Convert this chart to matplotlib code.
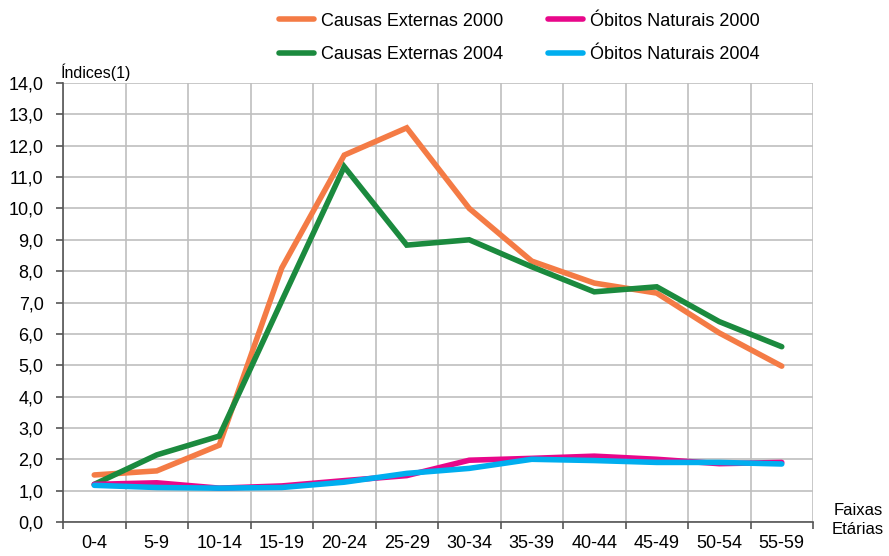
import numpy as np
import matplotlib
matplotlib.use("Agg")
import matplotlib.pyplot as plt
from matplotlib.ticker import FixedLocator, FuncFormatter
#------------------------------------------------------------

faixas = ["0-4", "5-9", "10-14", "15-19", "20-24", "25-29",
          "30-34", "35-39", "40-44", "45-49", "50-54", "55-59"]

causas_ext_2000 = [1.50, 1.63, 2.45, 8.10, 11.70, 12.57, 10.00, 8.32, 7.62, 7.30, 6.03, 4.97]
causas_ext_2004 = [1.20, 2.14, 2.74, 7.05, 11.33, 8.83, 9.00, 8.14, 7.34, 7.50, 6.39, 5.59]
obitos_nat_2000 = [1.20, 1.25, 1.08, 1.15, 1.32, 1.48, 1.97, 2.03, 2.10, 2.00, 1.86, 1.90]
obitos_nat_2004 = [1.17, 1.10, 1.08, 1.10, 1.27, 1.55, 1.71, 2.00, 1.96, 1.90, 1.90, 1.85]

series = [("Causas Externas 2000", causas_ext_2000, "#F47B45"),
          ("Causas Externas 2004", causas_ext_2004, "#1B8A3E"),
          ("Óbitos Naturais 2000", obitos_nat_2000, "#E8078A"),
          ("Óbitos Naturais 2004", obitos_nat_2004, "#00AEEF")]

plt.rcParams['font.family'] = ['Liberation Sans', 'DejaVu Sans']

fig = plt.figure(figsize=(8.89, 5.56), dpi=100)
ax = fig.add_axes([63/889, 1-522/556, 750/889, (522-83)/556])

x = np.arange(len(faixas))
for label, vals, col in series:
    ax.plot(x, vals, color=col, lw=4, label=label, solid_capstyle="round",
            solid_joinstyle="miter")

ax.set_xlim(-0.5, len(faixas)-0.5)
ax.set_ylim(0, 14)
ax.set_xticks(x)
ax.set_xticklabels(faixas)
ax.xaxis.set_minor_locator(FixedLocator(np.arange(-0.5, len(faixas), 1)))
ax.set_yticks(np.arange(0, 15, 1))
ax.yaxis.set_major_formatter(FuncFormatter(lambda v, p: f"{v:.1f}".replace(".", ",")))

ax.grid(axis="y", which="major", color="#BFBFBF", lw=1.2)
ax.grid(axis="x", which="minor", color="#BFBFBF", lw=1.2)
ax.set_axisbelow(True)

ax.tick_params(axis="x", which="major", length=0, labelsize=13, pad=9)
ax.tick_params(axis="x", which="minor", length=5, width=1.2, color="#555555")
ax.tick_params(axis="y", length=5, width=1.2, color="#555555", labelsize=13, pad=9)

for s in ["top", "right"]:
    ax.spines[s].set_visible(False)
for s in ["left", "bottom"]:
    ax.spines[s].set_color("#555555")
    ax.spines[s].set_linewidth(1.2)

fig.text(61/889, 1-72/556, "Índices(1)", fontsize=11.5, ha="left", va="center")
fig.text(858/889, 1-520/556, "Faixas\nEtárias", fontsize=12, ha="center", va="center",
         linespacing=1.3)

fig.legend(loc="upper left", bbox_to_anchor=(266/889, 1.0), ncol=2, frameon=False,
           fontsize=13, handlelength=1.95, handletextpad=0.4, columnspacing=2.45,
           labelspacing=0.92, borderaxespad=0.3)

fig.savefig("out.png", dpi=100)
plt.close()
#---------------------------------------------------
